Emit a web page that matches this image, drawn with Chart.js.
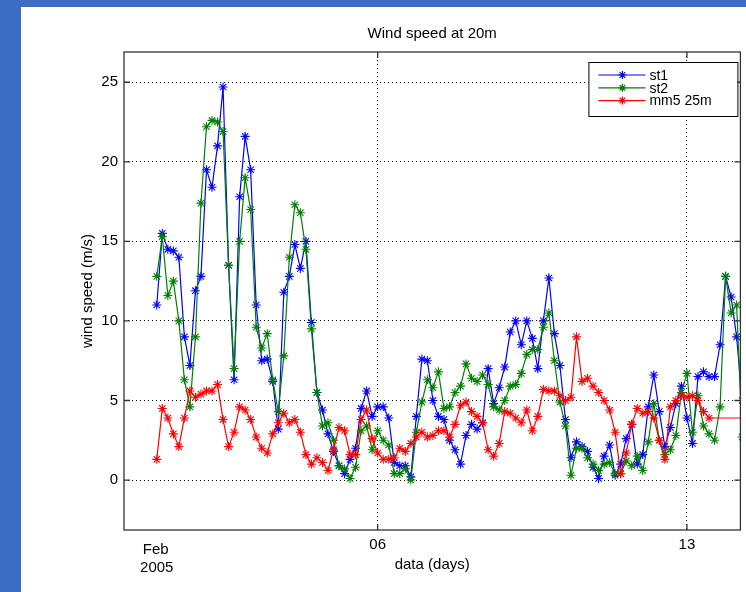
<!DOCTYPE html>
<html>
<head>
<meta charset="utf-8">
<script src="https://cdn.jsdelivr.net/npm/chart.js@4/dist/chart.umd.min.js"></script>
<style>
  html, body { margin: 0; padding: 0; background: #3d6cc4; }
  body { width: 746px; height: 592px; position: relative; overflow: hidden; }
  #wrap { position: absolute; left: 21px; top: 7px; width: 725px; height: 585px; background: #fff; }
</style>
</head>
<body>
<div id="wrap"><canvas id="myChart"></canvas></div>
<script>
const chartTitle = 'Wind speed at 20m';
const xTitle = 'data (days)';
const yTitle = 'wind speed (m/s)';
const seriesNames = ['st1', 'st2', 'mm5 25m'];
const seriesColors = ['#0000ff', '#008000', '#ff0000'];

// samples every 3 hours from Feb 1 2005 (x = day of February)
const startDay = 1;
const stepDays = 0.125;

const st1 = [
  11.0, 15.5, 14.5, 14.4, 14.0, 9.0, 7.2, 11.9, 12.8, 19.5,
  18.4, 21.0, 24.7, 13.5, 6.3, 17.8, 21.6, 19.5, 11.0, 7.5,
  7.6, 6.2, 3.2, 11.8, 12.8, 14.8, 13.3, 15.0, 9.9, 5.5,
  4.4, 2.9, 1.8, 0.9, 0.4, 1.3, 2.0, 4.5, 5.6, 4.0,
  4.6, 4.6, 3.9, 1.1, 0.9, 0.9, 0.2, 4.0, 7.6, 7.5,
  5.0, 4.0, 3.8, 2.5, 1.9, 1.0, 2.8, 3.5, 3.2, 3.6,
  7.0, 4.8, 5.8, 7.1, 9.3, 10.0, 8.5, 10.0, 8.9, 7.0,
  10.0, 12.7, 9.2, 7.2, 3.8, 1.4, 2.4, 2.1, 1.8, 0.8,
  0.1, 1.5, 2.2, 0.3, 1.0, 2.6, 3.5, 1.0, 1.6, 4.6,
  6.6, 4.3, 2.1, 3.3, 4.8, 5.9, 3.9, 2.3, 6.5, 6.8,
  6.5, 6.5, 8.5, 12.8, 11.5, 9.0, 5.0
];
const st2 = [
  12.8, 15.3, 11.6, 12.5, 10.0, 6.3, 4.6, 9.0, 17.4, 22.2,
  22.6, 22.5, 21.9, 13.5, 7.0, 15.0, 19.0, 17.0, 9.6, 8.3,
  9.2, 6.3, 4.3, 7.8, 14.0, 17.3, 16.8, 14.5, 9.5, 5.5,
  3.4, 3.6, 2.5, 0.9, 0.7, 0.1, 0.8, 3.1, 3.4, 1.9,
  3.1, 2.5, 2.2, 0.4, 0.4, 0.7, 0.0, 3.0, 4.9, 6.3,
  5.8, 6.8, 4.5, 4.6, 5.5, 5.9, 7.3, 6.4, 6.2, 6.6,
  6.0, 4.6, 4.4, 5.0, 5.9, 6.0, 6.7, 7.9, 8.2, 8.2,
  9.6, 10.5, 7.5, 4.9, 3.4, 0.3, 2.0, 2.0, 1.4, 1.0,
  0.6, 1.0, 1.1, 0.4, 0.4, 1.2, 0.9, 1.5, 0.6, 2.4,
  4.8, 2.5, 1.6, 1.9, 2.8, 5.5, 6.7, 3.0, 5.3, 3.4,
  2.9, 2.5, 4.6, 12.8, 10.5, 11.0, 2.7
];
const mm5 = [
  1.3, 4.5, 3.9, 2.9, 2.1, 3.9, 5.6, 5.2, 5.4, 5.6,
  5.6, 6.0, 3.8, 2.1, 3.0, 4.6, 4.4, 3.8, 2.7, 2.0,
  1.7, 2.9, 3.6, 4.2, 3.6, 3.8, 3.0, 1.6, 1.0, 1.4,
  1.1, 0.6, 1.9, 3.3, 3.1, 1.6, 1.6, 3.8, 4.4, 2.6,
  1.7, 1.3, 1.3, 1.4, 2.0, 1.8, 2.3, 2.7, 3.0, 2.7,
  2.8, 3.1, 3.1, 2.7, 3.5, 4.7, 4.9, 4.3, 4.0, 3.6,
  1.9, 1.5, 2.3, 4.3, 4.2, 3.9, 3.6, 4.4, 3.1, 4.0,
  5.7, 5.6, 5.6, 5.3, 5.0, 5.2, 9.0, 6.2, 6.4, 5.9,
  5.5, 5.0, 4.4, 3.0, 0.4, 1.7, 3.5, 4.5, 4.2, 4.3,
  3.9, 2.5, 1.3, 4.6, 5.0, 5.3, 5.2, 5.3, 5.0, 4.3,
  3.9
];
// next model value lies beyond the right edge of the axes
const mm5NextDay = 15.5;
const mm5NextValue = 3.9;

const xTicks = [6, 13];
const xTickLabels = ['06', '13'];
const startLabel = ['Feb', '2005'];
const yTicks = [0, 5, 10, 15, 20, 25];

function toPoints(values) {
  return values.map((v, i) => ({ x: startDay + i * stepDays, y: v }));
}

const mm5Points = toPoints(mm5);
mm5Points.push({ x: mm5NextDay, y: mm5NextValue });

Chart.defaults.font.family = '"Liberation Sans", Arial, sans-serif';
Chart.defaults.font.size = 15;
Chart.defaults.color = '#000';

function seriesStyle(i) {
  const c = seriesColors[i];
  return {
    label: seriesNames[i],
    borderColor: c,
    backgroundColor: c,
    borderWidth: 1.2,
    pointStyle: 'star',
    pointRadius: 4.5,
    pointBorderWidth: 1.1,
    pointBorderColor: c,
    pointBackgroundColor: c,
    tension: 0
  };
}

// matlab style box, inward ticks, legend and titles
const matlabAxes = {
  id: 'matlabAxes',
  afterDatasetsDraw(chart) {
    const { ctx, chartArea: a, scales } = chart;
    const tick = 6;
    ctx.save();

    ctx.strokeStyle = '#333';
    ctx.lineWidth = 1.3;
    ctx.strokeRect(a.left, a.top, a.right - a.left, a.bottom - a.top);

    ctx.beginPath();
    xTicks.forEach(v => {
      const px = scales.x.getPixelForValue(v);
      ctx.moveTo(px, a.bottom); ctx.lineTo(px, a.bottom - tick);
      ctx.moveTo(px, a.top); ctx.lineTo(px, a.top + tick);
    });
    yTicks.forEach(v => {
      const py = scales.y.getPixelForValue(v);
      ctx.moveTo(a.left, py); ctx.lineTo(a.left + tick, py);
      ctx.moveTo(a.right, py); ctx.lineTo(a.right - tick, py);
    });
    ctx.stroke();

    ctx.font = '15px "Liberation Sans", Arial, sans-serif';
    ctx.textBaseline = 'middle';
    ctx.fillStyle = '#000';

    // month / year under the first day
    ctx.textAlign = 'center';
    const fx = scales.x.getPixelForValue(startDay) - 1;
    ctx.fillText(startLabel[0], fx, a.bottom + 20);
    ctx.fillText(startLabel[1], fx + 1, a.bottom + 38);

    // legend
    const bx = a.right - 152, by = a.top + 10, bw = 149, bh = 54;
    ctx.fillStyle = '#fff';
    ctx.fillRect(bx, by, bw, bh);
    ctx.strokeStyle = '#000';
    ctx.lineWidth = 1;
    ctx.strokeRect(bx + 0.5, by + 0.5, bw, bh);
    ctx.font = '14px "Liberation Sans", Arial, sans-serif';
    ctx.textAlign = 'left';
    seriesNames.forEach((name, i) => {
      const ly = by + 13 + i * 12.8;
      const c = seriesColors[i];
      ctx.strokeStyle = c;
      ctx.lineWidth = 1.2;
      ctx.beginPath();
      ctx.moveTo(bx + 10, ly); ctx.lineTo(bx + 57, ly);
      ctx.stroke();
      ctx.fillStyle = c;
      Chart.helpers.drawPoint(ctx, { pointStyle: 'star', radius: 4, rotation: 0, borderWidth: 1.1 }, bx + 34, ly);
      ctx.fillStyle = '#000';
      ctx.fillText(name, bx + 61, ly + 1);
    });

    // titles
    ctx.font = '15px "Liberation Sans", Arial, sans-serif';
    const cx = (a.left + a.right) / 2;
    ctx.fillStyle = '#000';
    ctx.textAlign = 'center';
    ctx.fillText(chartTitle, cx, a.top - 18);
    ctx.fillText(xTitle, cx, a.bottom + 35);
    ctx.translate(67, (a.top + a.bottom) / 2);
    ctx.rotate(-Math.PI / 2);
    ctx.fillText(yTitle, 0, 0);
    ctx.restore();
  }
};

const myChart = new Chart(document.getElementById('myChart'), {
  type: 'line',
  data: {
    datasets: [
      Object.assign(seriesStyle(0), { data: toPoints(st1), order: 2 }),
      Object.assign(seriesStyle(1), { data: toPoints(st2), order: 1 }),
      Object.assign(seriesStyle(2), { data: mm5Points, order: 0 })
    ]
  },
  options: {
    responsive: true,
    maintainAspectRatio: false,
    animation: false,
    events: [],
    layout: { padding: { left: 0, top: 45, right: 4, bottom: 0 } },
    plugins: {
      legend: { display: false },
      title: { display: false },
      tooltip: { enabled: false }
    },
    scales: {
      x: {
        type: 'linear',
        min: 0.258,
        max: 14.21,
        afterBuildTicks: s => { s.ticks = xTicks.map(v => ({ value: v })); },
        afterFit: s => { s.height = 62; },
        ticks: {
          padding: 6,
          autoSkip: false,
          maxRotation: 0,
          callback: (v, i) => xTickLabels[i]
        },
        grid: { color: '#000', lineWidth: 1, drawTicks: false },
        border: { display: false, dash: [1, 3] }
      },
      y: {
        min: -3.14,
        max: 26.9,
        afterBuildTicks: s => { s.ticks = yTicks.map(v => ({ value: v })); },
        afterFit: s => { s.width = 103; },
        ticks: { padding: 6 },
        grid: { color: '#000', lineWidth: 1, drawTicks: false },
        border: { display: false, dash: [1, 3] }
      }
    }
  },
  plugins: [matlabAxes]
});
</script>
</body>
</html>
